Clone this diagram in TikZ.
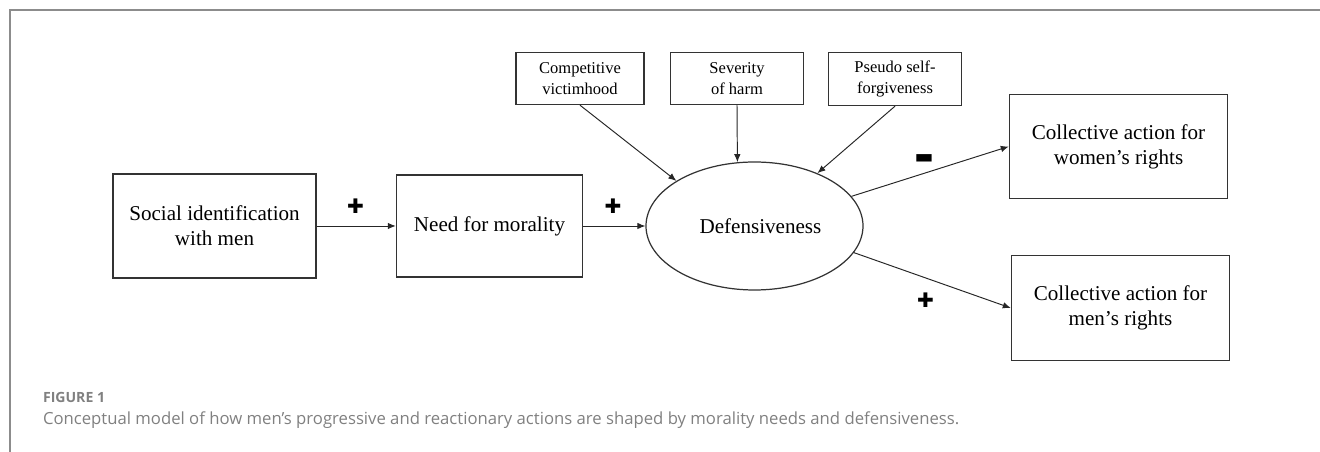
\documentclass[tikz,border=0pt]{standalone}
\usepackage{fontspec}
\setmainfont{Liberation Serif}
\newfontfamily\capfont{Open Sans}
\newfontfamily\signfont{DejaVu Sans}
\usetikzlibrary{arrows.meta,shapes.geometric}

\begin{document}
\begin{tikzpicture}[
    box/.style={draw=black!80, line width=0.8pt, align=center, font=\fontsize{12}{14.2}\selectfont, inner sep=0pt},
    small/.style={draw=black!80, line width=0.8pt, align=center, font=\fontsize{9.4}{12.3}\selectfont, inner sep=0pt, minimum height=1.04cm},
    ell/.style={draw=black!80, line width=0.7pt, ellipse, inner sep=0pt, font=\fontsize{12}{14.2}\selectfont, minimum width=4.34cm, minimum height=2.56cm},
    sign/.style={font=\signfont\fontsize{11.4}{12}\selectfont, inner sep=0pt},
    captext/.style={anchor=base west, inner sep=0pt, text=black!50},
    frame/.style={draw=black!45, line width=1.1pt},
    arr/.style={-{Latex[length=1.6mm,width=1.3mm]}, line width=0.55pt, black!85}
    ]
    \useasboundingbox (0,0) rectangle (26.4,9.04);
    \draw[frame] (26.4,8.84) -- (0.2,8.84) -- (0.2,0);

    \node[box, minimum width=4.06cm, minimum height=2.08cm] (social) at (4.29,4.52) {Social identification\\with men};
    \node[box, minimum width=3.72cm, minimum height=2.04cm] (need) at (9.79,4.52) {Need for morality};
    \node[ell] (def) at (15.09,4.52) {\hspace{0.24cm}Defensiveness};
    \node[small, minimum width=2.56cm] (comp) at (11.6,7.47) {Competitive\\victimhood};
    \node[small, minimum width=2.65cm] (sev) at (14.74,7.47) {Severity\\of harm};
    \node[small, minimum width=2.65cm, minimum height=1.06cm] (pseudo) at (17.9,7.46) {Pseudo self-\\forgiveness};
    \node[box, minimum width=4.36cm, minimum height=2.09cm] (women) at (22.37,6.11) {Collective action for\\women’s rights};
    \node[box, minimum width=4.36cm, minimum height=2.09cm] (men) at (22.41,2.88) {Collective action for\\men’s rights};

    \node[sign] (plusa) at (7.11,4.92) {✚};
    \node[sign] (plusb) at (12.26,4.92) {✚};
    \node[sign] (minus) at (18.48,5.86) {▬};
    \node[sign] (plusc) at (18.51,3.03) {✚};

    \draw[arr] (social) -- (need);
    \draw[arr] (need) -- (def);
    \draw[arr] (comp.south) -- (def.150);
    \draw[arr] (sev.south) -- (def.105);
    \draw[arr] (pseudo.south) -- (def.40);
    \draw[arr] (def.17) -- (women.west);
    \draw[arr] (def.-15) -- (men.west);

    \node[captext, font=\capfont\bfseries\fontsize{8}{9}\selectfont] (figlabel) at (0.854,0.994) {FIGURE 1};
    \node[captext, font=\capfont\fontsize{9.5}{11}\selectfont] (caption) at (0.854,0.54)
      {Conceptual model of how men’s progressive and reactionary actions are shaped by morality needs and defensiveness.};
  \end{tikzpicture}
\end{document}
